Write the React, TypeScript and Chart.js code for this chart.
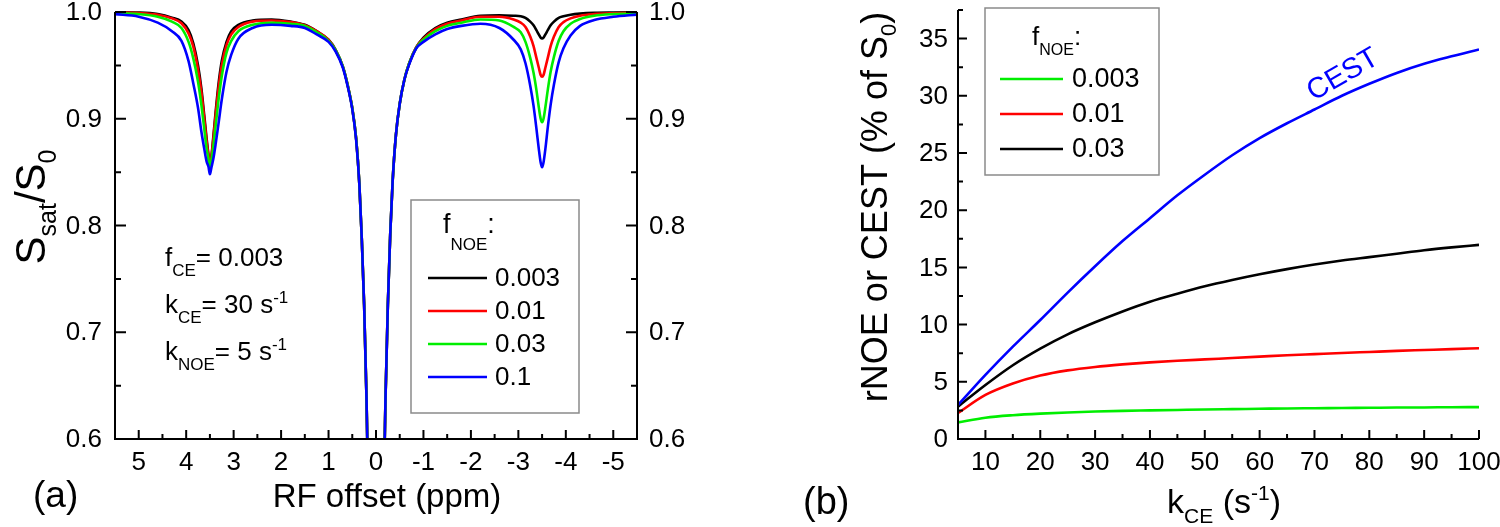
import React, { useEffect, useRef } from "react";
import { Chart, registerables } from "chart.js";

Chart.register(...registerables);

const FONT = '"Liberation Sans", Arial, Helvetica, sans-serif';

// ---------- Panel (a): Z-spectra ----------
const ppmOffsets = [
  5.5, 5.0, 4.6, 4.3, 4.1, 3.95, 3.85, 3.75, 3.68, 3.62, 3.57, 3.53, 3.5, 3.47, 3.43, 3.38, 3.32, 3.25, 3.15, 3.05,
  2.9, 2.6, 2.2, 1.8, 1.5, 1.25, 1.0, 0.85, 0.7, 0.6, 0.5, 0.42, 0.35, 0.3, 0.25, 0.2, 0.17, 0.1, 0,
  -0.1, -0.17, -0.2, -0.25, -0.3, -0.35, -0.42, -0.5, -0.6, -0.7, -0.85, -1.0, -1.25, -1.5, -1.8, -2.2, -2.6,
  -2.9, -3.05, -3.15, -3.25, -3.32, -3.38, -3.43, -3.47, -3.5, -3.53, -3.57, -3.62, -3.68, -3.75, -3.85, -3.95,
  -4.1, -4.3, -4.6, -5.0, -5.5,
];
const zFnoe0003 = [
  0.9997, 0.9994, 0.998, 0.9947, 0.991, 0.983, 0.9707, 0.95, 0.9285, 0.9035, 0.8817, 0.866, 0.855, 0.864, 0.882, 0.906, 0.932, 0.954, 0.972, 0.982,
  0.988, 0.992, 0.993, 0.991, 0.988, 0.982, 0.974, 0.9645, 0.949, 0.932, 0.91, 0.882, 0.838, 0.788, 0.7255, 0.638, 0.565, 0.34, 0.1,
  0.34, 0.565, 0.638, 0.726, 0.792, 0.841, 0.885, 0.914, 0.937, 0.952, 0.967, 0.976, 0.985, 0.99, 0.993, 0.9965, 0.997,
  0.9965, 0.996, 0.9945, 0.991, 0.9875, 0.983, 0.979, 0.976, 0.9753, 0.976, 0.979, 0.983, 0.9875, 0.991, 0.9945, 0.996,
  0.9975, 0.9985, 0.9992, 0.9995, 0.9997,
];
const zFnoe001 = [
  0.9995, 0.999, 0.9975, 0.994, 0.9895, 0.98, 0.9675, 0.9457, 0.925, 0.9004, 0.879, 0.865, 0.854, 0.863, 0.88, 0.903, 0.928, 0.95, 0.969, 0.979,
  0.986, 0.991, 0.992, 0.9905, 0.9875, 0.982, 0.974, 0.964, 0.949, 0.932, 0.91, 0.882, 0.838, 0.788, 0.7255, 0.638, 0.565, 0.34, 0.1,
  0.34, 0.565, 0.638, 0.726, 0.792, 0.841, 0.885, 0.914, 0.937, 0.952, 0.967, 0.975, 0.984, 0.989, 0.992, 0.9955, 0.9955,
  0.993, 0.99, 0.986, 0.977, 0.968, 0.957, 0.948, 0.941, 0.9394, 0.941, 0.948, 0.957, 0.968, 0.977, 0.986, 0.9905,
  0.994, 0.9965, 0.998, 0.9988, 0.9993,
];
const zFnoe003 = [
  0.999, 0.998, 0.9956, 0.991, 0.985, 0.972, 0.9566, 0.9347, 0.913, 0.891, 0.872, 0.862, 0.851, 0.86, 0.873, 0.893, 0.917, 0.94, 0.962, 0.973,
  0.982, 0.988, 0.99, 0.989, 0.987, 0.981, 0.973, 0.964, 0.949, 0.932, 0.91, 0.882, 0.838, 0.788, 0.7255, 0.638, 0.565, 0.34, 0.1,
  0.34, 0.565, 0.638, 0.726, 0.792, 0.841, 0.885, 0.914, 0.937, 0.952, 0.9665, 0.974, 0.982, 0.987, 0.99, 0.993, 0.992,
  0.986, 0.981, 0.972, 0.957, 0.943, 0.927, 0.911, 0.9, 0.8967, 0.9, 0.911, 0.927, 0.944, 0.958, 0.973, 0.982,
  0.989, 0.9935, 0.9965, 0.998, 0.9988,
];
const zFnoe01 = [
  0.998, 0.9956, 0.99, 0.982, 0.973, 0.954, 0.933, 0.91, 0.888, 0.872, 0.86, 0.855, 0.848, 0.854, 0.862, 0.876, 0.895, 0.918, 0.944, 0.96,
  0.975, 0.985, 0.988, 0.987, 0.985, 0.979, 0.972, 0.963, 0.948, 0.931, 0.909, 0.881, 0.838, 0.788, 0.7255, 0.638, 0.565, 0.34, 0.1,
  0.34, 0.565, 0.638, 0.726, 0.792, 0.841, 0.885, 0.914, 0.937, 0.951, 0.966, 0.972, 0.979, 0.984, 0.987, 0.989, 0.985,
  0.974, 0.965, 0.952, 0.931, 0.912, 0.891, 0.872, 0.859, 0.8545, 0.859, 0.872, 0.892, 0.913, 0.932, 0.953, 0.966,
  0.978, 0.987, 0.9925, 0.9955, 0.9975,
];
const ppmTicks = [5, 4, 3, 2, 1, 0, -1, -2, -3, -4, -5];
const ppmMinorTicks = [4.5, 3.5, 2.5, 1.5, 0.5, -0.5, -1.5, -2.5, -3.5, -4.5];
const zTicks = [0.6, 0.7, 0.8, 0.9, 1.0];
const zMinorTicks = [0.65, 0.75, 0.85, 0.95];
const legendALabels = ["0.003", "0.01", "0.03", "0.1"];

// ---------- Panel (b): rNOE / CEST vs kCE ----------
const kce = [5, 10, 15, 20, 25, 30, 35, 40, 45, 50, 55, 60, 65, 70, 75, 80, 85, 90, 95, 100];
const rnoe0003 = [1.45, 1.86, 2.08, 2.22, 2.32, 2.4, 2.46, 2.5, 2.54, 2.58, 2.61, 2.64, 2.67, 2.69, 2.71, 2.73, 2.75, 2.76, 2.78, 2.79];
const rnoe001 = [2.27, 3.85, 4.85, 5.55, 6.0, 6.3, 6.52, 6.7, 6.84, 6.96, 7.08, 7.2, 7.32, 7.42, 7.52, 7.61, 7.7, 7.78, 7.86, 7.93];
const rnoe003 = [2.83, 4.72, 6.45, 7.9, 9.15, 10.2, 11.15, 12.0, 12.7, 13.35, 13.9, 14.4, 14.85, 15.25, 15.6, 15.9, 16.2, 16.5, 16.75, 16.97];
const cestSignal = [2.97, 5.6, 8.07, 10.4, 12.8, 15.1, 17.3, 19.3, 21.3, 23.1, 24.8, 26.3, 27.6, 28.8, 30.0, 31.05, 32.0, 32.8, 33.45, 34.05];
const kTicks = [10, 20, 30, 40, 50, 60, 70, 80, 90, 100];
const kMinorTicks = [15, 25, 35, 45, 55, 65, 75, 85, 95];
const pctTicks = [0, 5, 10, 15, 20, 25, 30, 35];
const pctMinorTicks = [2.5, 7.5, 12.5, 17.5, 22.5, 27.5, 32.5, 37.5];
const legendBLabels = ["0.003", "0.01", "0.03"];

type Seg = [string, number?]; // 0 normal, 1 subscript, 2 superscript

function rich(
  ctx: CanvasRenderingContext2D,
  segs: Seg[],
  x: number,
  y: number,
  o: { size: number; sub: number; subDy: number; supDy?: number; align?: string; color?: string; rot?: number }
) {
  ctx.save();
  ctx.translate(x, y);
  if (o.rot) ctx.rotate(o.rot);
  ctx.fillStyle = o.color || "#000";
  ctx.textBaseline = "alphabetic";
  ctx.textAlign = "left";
  const widths = segs.map(([t, k]) => {
    ctx.font = `${k ? o.sub : o.size}px ${FONT}`;
    return ctx.measureText(t).width;
  });
  const total = widths.reduce((a, b) => a + b, 0);
  let cx = o.align === "center" ? -total / 2 : o.align === "right" ? -total : 0;
  segs.forEach(([t, k], i) => {
    ctx.font = `${k ? o.sub : o.size}px ${FONT}`;
    const dy = k === 1 ? o.subDy : k === 2 ? -(o.supDy || 0) : 0;
    ctx.fillText(t, cx, dy);
    cx += widths[i];
  });
  ctx.restore();
}

function seg(ctx: CanvasRenderingContext2D, x1: number, y1: number, x2: number, y2: number) {
  ctx.moveTo(x1, y1);
  ctx.lineTo(x2, y2);
}

const COLORS = { black: "#000000", red: "#ff0000", green: "#00ee00", blue: "#0000ff" };

function makeDataset(xs: number[], ys: number[], color: string, order: number) {
  return {
    data: xs.map((x, i) => ({ x, y: ys[i] })),
    borderColor: color,
    backgroundColor: color,
    borderWidth: 2.6,
    pointRadius: 0,
    fill: false,
    cubicInterpolationMode: "monotone" as const,
    order,
    clip: { left: 0, top: 6, right: 0, bottom: 0 },
  };
}

const TICK_FONT = 26;

const panelAPlugin = {
  id: "panelA",
  afterDraw(chart: any) {
    const ctx: CanvasRenderingContext2D = chart.ctx;
    const xs = chart.scales.x;
    const ys = chart.scales.y;
    const { left, right, top, bottom } = chart.chartArea;
    ctx.save();
    ctx.strokeStyle = "#000";
    ctx.lineWidth = 2;
    ctx.lineJoin = "miter";
    ctx.beginPath();
    ctx.moveTo(left, top);
    ctx.lineTo(left, bottom);
    ctx.lineTo(right, bottom);
    ctx.lineTo(right, top);
    ctx.stroke();
    ctx.beginPath();
    zTicks.forEach((v) => {
      const p = ys.getPixelForValue(v);
      seg(ctx, left, p, left + 11, p);
      seg(ctx, right, p, right - 11, p);
    });
    zMinorTicks.forEach((v) => {
      const p = ys.getPixelForValue(v);
      seg(ctx, left, p, left + 6, p);
      seg(ctx, right, p, right - 6, p);
    });
    ppmTicks.forEach((v) => {
      const p = xs.getPixelForValue(v);
      seg(ctx, p, bottom, p, bottom - 9);
    });
    ppmMinorTicks.forEach((v) => {
      const p = xs.getPixelForValue(v);
      seg(ctx, p, bottom, p, bottom - 5);
    });
    ctx.stroke();

    ctx.fillStyle = "#000";
    ctx.font = `${TICK_FONT}px ${FONT}`;
    ctx.textBaseline = "middle";
    zTicks.forEach((v) => {
      const p = ys.getPixelForValue(v);
      ctx.textAlign = "right";
      ctx.fillText(v.toFixed(1), left - 13, p + 1);
      ctx.textAlign = "left";
      ctx.fillText(v.toFixed(1), right + 12, p + 1);
    });
    ctx.textAlign = "center";
    ppmTicks.forEach((v) => {
      ctx.fillText(String(v), xs.getPixelForValue(v), bottom + 24);
    });

    // axis titles
    rich(ctx, [["RF offset (ppm)"]], 387, 507, { size: 33, sub: 20, subDy: 8, align: "center" });
    rich(ctx, [["(a)"]], 33, 507, { size: 37, sub: 20, subDy: 8 });
    rich(ctx, [["S"], ["sat", 1], ["/S"], ["0", 1]], 45, 207, {
      size: 42,
      sub: 25,
      subDy: 11,
      align: "center",
      rot: -Math.PI / 2,
    });

    // parameters
    const po = { size: 26, sub: 17, subDy: 10, supDy: 10 };
    rich(ctx, [["f"], ["CE", 1], ["= 0.003"]], 165, 266, po);
    rich(ctx, [["k"], ["CE", 1], ["= 30 s"], ["-1", 2]], 165, 313, po);
    rich(ctx, [["k"], ["NOE", 1], ["= 5 s"], ["-1", 2]], 165, 360, po);

    // legend
    ctx.fillStyle = "#fff";
    ctx.fillRect(411, 200, 168, 213);
    ctx.strokeStyle = "#8a8a8a";
    ctx.lineWidth = 1.5;
    ctx.strokeRect(411, 200, 168, 213);
    rich(ctx, [["f"], ["NOE", 1], [":"]], 443, 233, { size: 27, sub: 17, subDy: 17 });
    const cols = [COLORS.black, COLORS.red, COLORS.green, COLORS.blue];
    const rows = [278, 311, 344, 377];
    legendALabels.forEach((lab, i) => {
      ctx.strokeStyle = cols[i];
      ctx.lineWidth = 2.6;
      ctx.beginPath();
      seg(ctx, 428, rows[i], 487, rows[i]);
      ctx.stroke();
      ctx.fillStyle = "#000";
      ctx.font = `26px ${FONT}`;
      ctx.textAlign = "left";
      ctx.textBaseline = "middle";
      ctx.fillText(lab, 495, rows[i] + 1);
    });
    ctx.restore();
  },
};

const panelBPlugin = {
  id: "panelB",
  afterDraw(chart: any) {
    const ctx: CanvasRenderingContext2D = chart.ctx;
    const xs = chart.scales.x;
    const ys = chart.scales.y;
    const { left, right, top, bottom } = chart.chartArea;
    ctx.save();
    ctx.strokeStyle = "#000";
    ctx.lineWidth = 2;
    ctx.beginPath();
    ctx.moveTo(left, top);
    ctx.lineTo(left, bottom);
    ctx.lineTo(right, bottom);
    ctx.stroke();
    ctx.beginPath();
    pctTicks.forEach((v) => {
      const p = ys.getPixelForValue(v);
      seg(ctx, left, p, left + 9, p);
    });
    pctMinorTicks.forEach((v) => {
      const p = ys.getPixelForValue(v);
      seg(ctx, left, p, left + 5, p);
    });
    kTicks.forEach((v) => {
      const p = xs.getPixelForValue(v);
      seg(ctx, p, bottom, p, bottom - 9);
    });
    kMinorTicks.forEach((v) => {
      const p = xs.getPixelForValue(v);
      seg(ctx, p, bottom, p, bottom - 5);
    });
    ctx.stroke();

    ctx.fillStyle = "#000";
    ctx.font = `${TICK_FONT}px ${FONT}`;
    ctx.textBaseline = "middle";
    ctx.textAlign = "right";
    pctTicks.forEach((v) => {
      ctx.fillText(String(v), left - 10, ys.getPixelForValue(v) + 1);
    });
    ctx.textAlign = "center";
    kTicks.forEach((v) => {
      ctx.fillText(String(v), xs.getPixelForValue(v), bottom + 24);
    });

    rich(ctx, [["k"], ["CE", 1], [" (s"], ["-1", 2], [")"]], 474, 513, {
      size: 34,
      sub: 21,
      subDy: 10,
      supDy: 13,
      align: "center",
    });
    rich(ctx, [["(b)"]], 53, 514, { size: 38, sub: 20, subDy: 8 });
    rich(ctx, [["rNOE or CEST (% of S"], ["0", 1], [")"]], 137, 207, {
      size: 36,
      sub: 22,
      subDy: 9,
      align: "center",
      rot: -Math.PI / 2,
    });

    // CEST label
    rich(ctx, [["CEST"]], 597, 82, { size: 29, sub: 20, subDy: 8, align: "center", color: "#0000ff", rot: (-30 * Math.PI) / 180 });

    // legend
    ctx.fillStyle = "#fff";
    ctx.fillRect(235, 8, 174, 167);
    ctx.strokeStyle = "#8a8a8a";
    ctx.lineWidth = 1.5;
    ctx.strokeRect(235, 8, 174, 167);
    rich(ctx, [["f"], ["NOE", 1], [":"]], 282, 45, { size: 26, sub: 16, subDy: 10 });
    const cols = [COLORS.green, COLORS.red, COLORS.black];
    const rows = [79, 114, 149];
    legendBLabels.forEach((lab, i) => {
      ctx.strokeStyle = cols[i];
      ctx.lineWidth = 2.6;
      ctx.beginPath();
      seg(ctx, 250, rows[i], 313, rows[i]);
      ctx.stroke();
      ctx.fillStyle = "#000";
      ctx.font = `27px ${FONT}`;
      ctx.textAlign = "left";
      ctx.textBaseline = "middle";
      ctx.fillText(lab, 322, rows[i] + 1);
    });
    ctx.restore();
  },
};

function configA(): any {
  return {
    type: "line",
    data: {
      datasets: [
        makeDataset(ppmOffsets, zFnoe0003, COLORS.black, 3),
        makeDataset(ppmOffsets, zFnoe001, COLORS.red, 2),
        makeDataset(ppmOffsets, zFnoe003, COLORS.green, 1),
        makeDataset(ppmOffsets, zFnoe01, COLORS.blue, 0),
      ],
    },
    options: {
      animation: false,
      responsive: false,
      devicePixelRatio: 1,
      layout: { padding: { left: 115, right: 113, top: 12, bottom: 88 } },
      plugins: { legend: { display: false }, tooltip: { enabled: false } },
      scales: {
        x: { type: "linear", min: -5.5, max: 5.5, reverse: true, display: false },
        y: { type: "linear", min: 0.6, max: 1.0, display: false },
      },
    },
    plugins: [panelAPlugin],
  };
}

function configB(): any {
  return {
    type: "line",
    data: {
      datasets: [
        makeDataset(kce, rnoe0003, COLORS.green, 3),
        makeDataset(kce, rnoe001, COLORS.red, 2),
        makeDataset(kce, rnoe003, COLORS.black, 1),
        makeDataset(kce, cestSignal, COLORS.blue, 0),
      ],
    },
    options: {
      animation: false,
      responsive: false,
      devicePixelRatio: 1,
      layout: { padding: { left: 208, right: 21, top: 10, bottom: 88 } },
      plugins: { legend: { display: false }, tooltip: { enabled: false } },
      scales: {
        x: { type: "linear", min: 5, max: 100, display: false },
        y: { type: "linear", min: 0, max: 37.5, display: false },
      },
    },
    plugins: [panelBPlugin],
  };
}

function ChartPanel({ left, make }: { left: number; make: () => any }) {
  const ref = useRef<HTMLCanvasElement | null>(null);
  useEffect(() => {
    if (!ref.current) return;
    const chart = new Chart(ref.current, make());
    return () => chart.destroy();
  }, []);
  return (
    <div style={{ position: "absolute", left, top: 0, width: 750, height: 527 }}>
      <canvas ref={ref} width={750} height={527} style={{ width: 750, height: 527, display: "block" }} />
    </div>
  );
}

export default function App() {
  return (
    <div style={{ position: "absolute", left: 0, top: 0, width: 1500, height: 527, background: "#fff", overflow: "hidden" }}>
      <ChartPanel left={0} make={configA} />
      <ChartPanel left={750} make={configB} />
    </div>
  );
}
